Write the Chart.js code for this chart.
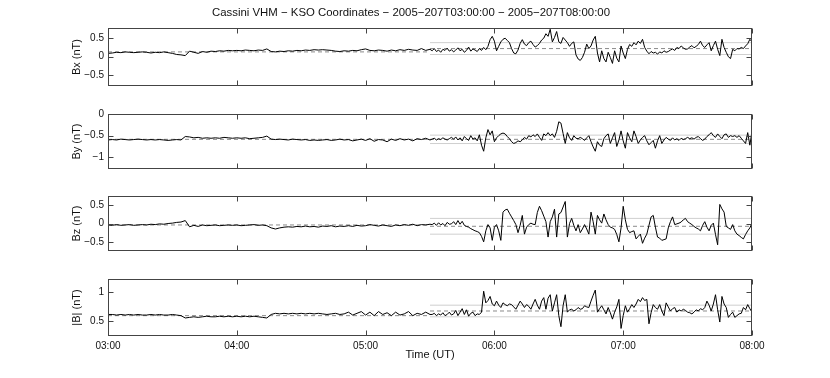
<!DOCTYPE html>
<html>
<head>
<meta charset="utf-8">
<script src="https://cdn.jsdelivr.net/npm/chart.js@4"></script>
<style>
  body { margin: 0; background: #fff; }
  #wrap { position: relative; width: 830px; height: 378px; }
  canvas { position: absolute; left: 0; }
</style>
</head>
<body>
<div id="wrap">
  <canvas id="bxChart" width="830" height="96" style="top:0px"></canvas>
  <canvas id="byChart" width="830" height="75" style="top:104px"></canvas>
  <canvas id="bzChart" width="830" height="75" style="top:186px"></canvas>
  <canvas id="btChart" width="830" height="97" style="top:269px"></canvas>
</div>
<script>
// minutes after 03:00 UT
const xTickValues = [0, 60, 120, 180, 240, 300];
const xTickLabels = ['03:00', '04:00', '05:00', '06:00', '07:00', '08:00'];

// quiet part: 03:00-05:30 every 2 min, active part: 05:31-08:00 every minute
const bxQuiet = [
  0.09,0.10,0.12,0.11,0.13,0.12,0.11,0.12,0.13,0.12,
  0.10,0.12,0.11,0.13,0.11,0.09,0.06,0.05,0.03,0.15,
  0.12,0.09,0.14,0.12,0.15,0.14,0.16,0.15,0.17,0.16,
  0.17,0.16,0.18,0.17,0.16,0.18,0.17,0.21,0.14,0.13,
  0.15,0.14,0.16,0.15,0.17,0.16,0.18,0.17,0.19,0.18,
  0.19,0.18,0.17,0.15,0.14,0.16,0.15,0.17,0.16,0.19,
  0.21,0.17,0.16,0.18,0.17,0.15,0.18,0.16,0.19,0.17,
  0.20,0.18,0.17,0.22,0.17,0.20
];
const bxActive = [
  0.16,0.22,0.14,0.18,0.12,0.20,0.17,0.23,0.15,0.19,
  0.13,0.18,0.24,0.16,0.20,0.12,0.17,0.26,0.15,0.21,
  0.18,0.14,0.22,0.17,0.25,0.19,0.28,0.46,0.55,0.42,
  0.16,0.28,0.40,0.47,0.50,0.44,0.38,0.22,0.10,0.08,
  0.18,0.36,0.46,0.34,0.30,0.38,0.42,0.33,0.26,0.30,
  0.36,0.45,0.50,0.62,0.55,0.74,0.40,0.52,0.68,0.40,
  0.36,0.52,0.45,0.38,0.28,0.36,0.40,0.05,-0.06,-0.10,
  -0.02,0.12,0.34,0.22,0.29,0.45,0.55,0.10,-0.14,0.16,
  -0.05,-0.14,0.12,-0.02,-0.18,0.16,-0.04,-0.14,0.29,0.10,
  -0.05,0.20,0.33,0.28,0.38,0.32,0.42,0.36,0.47,0.25,
  0.15,0.08,0.14,0.10,0.12,0.07,0.13,0.10,0.16,0.12,
  0.14,0.18,0.21,0.17,0.25,0.22,0.29,0.24,0.20,0.21,
  0.26,0.30,0.24,0.28,0.33,0.42,0.30,0.25,0.32,0.38,
  0.16,0.30,0.42,0.20,0.03,0.47,0.25,0.12,0.00,-0.05,
  0.20,0.16,0.22,0.21,0.25,0.22,0.29,0.35,0.47,0.40
];

const byQuiet = [
  -0.60,-0.59,-0.60,-0.58,-0.59,-0.60,-0.59,-0.58,-0.59,-0.60,
  -0.59,-0.60,-0.59,-0.60,-0.61,-0.60,-0.59,-0.60,-0.52,-0.53,
  -0.55,-0.54,-0.56,-0.55,-0.56,-0.55,-0.56,-0.54,-0.55,-0.56,
  -0.55,-0.56,-0.55,-0.57,-0.56,-0.55,-0.54,-0.51,-0.58,-0.59,
  -0.58,-0.59,-0.60,-0.58,-0.59,-0.60,-0.59,-0.61,-0.60,-0.61,
  -0.60,-0.59,-0.61,-0.60,-0.58,-0.60,-0.59,-0.62,-0.60,-0.58,
  -0.61,-0.57,-0.63,-0.59,-0.60,-0.64,-0.58,-0.61,-0.57,-0.60,
  -0.58,-0.62,-0.57,-0.59,-0.56,-0.60
];
const byActive = [
  -0.58,-0.56,-0.60,-0.57,-0.59,-0.55,-0.58,-0.60,-0.57,-0.54,
  -0.58,-0.53,-0.60,-0.55,-0.62,-0.52,-0.57,-0.61,-0.50,-0.58,
  -0.55,-0.62,-0.48,-0.72,-0.86,-0.55,-0.36,-0.48,-0.39,-0.64,
  -0.55,-0.50,-0.46,-0.44,-0.46,-0.52,-0.57,-0.64,-0.68,-0.66,
  -0.62,-0.64,-0.60,-0.54,-0.58,-0.50,-0.53,-0.48,-0.52,-0.46,
  -0.54,-0.61,-0.46,-0.50,-0.43,-0.50,-0.46,-0.54,-0.40,-0.18,
  -0.21,-0.45,-0.68,-0.43,-0.55,-0.61,-0.50,-0.56,-0.57,-0.54,
  -0.57,-0.61,-0.55,-0.50,-0.64,-0.76,-0.86,-0.64,-0.72,-0.75,
  -0.57,-0.50,-0.46,-0.68,-0.55,-0.43,-0.75,-0.60,-0.39,-0.62,
  -0.79,-0.43,-0.55,-0.64,-0.39,-0.52,-0.68,-0.60,-0.54,-0.50,
  -0.62,-0.71,-0.66,-0.61,-0.79,-0.62,-0.50,-0.68,-0.60,-0.54,
  -0.58,-0.61,-0.55,-0.60,-0.57,-0.61,-0.56,-0.59,-0.57,-0.54,
  -0.57,-0.55,-0.58,-0.54,-0.52,-0.57,-0.61,-0.58,-0.52,-0.48,
  -0.43,-0.50,-0.54,-0.46,-0.52,-0.57,-0.48,-0.46,-0.54,-0.50,
  -0.52,-0.50,-0.54,-0.50,-0.56,-0.62,-0.68,-0.43,-0.72,-0.40
];

const bzQuiet = [
  -0.04,-0.05,-0.03,-0.05,-0.04,-0.03,-0.05,-0.04,-0.03,-0.04,
  -0.02,-0.03,-0.01,-0.02,0.00,0.01,0.03,0.04,0.08,-0.09,
  -0.05,-0.08,-0.04,-0.06,-0.05,-0.04,-0.06,-0.05,-0.04,-0.05,
  -0.04,-0.06,-0.05,-0.04,-0.03,-0.05,-0.04,-0.06,-0.12,-0.15,
  -0.12,-0.10,-0.09,-0.10,-0.08,-0.09,-0.07,-0.09,-0.08,-0.10,
  -0.07,-0.08,-0.06,-0.09,-0.07,-0.08,-0.06,-0.08,-0.05,-0.07,
  -0.06,-0.03,-0.05,-0.07,-0.04,-0.06,-0.08,-0.04,-0.06,-0.03,
  -0.05,-0.02,-0.06,-0.03,-0.04,-0.02
];
const bzActive = [
  -0.03,0.01,-0.05,0.02,-0.04,0.00,-0.06,0.03,-0.02,-0.01,
  0.05,-0.03,0.08,-0.02,0.06,-0.05,-0.08,-0.10,-0.14,-0.17,
  -0.20,-0.22,-0.25,-0.35,-0.50,-0.20,-0.03,-0.12,-0.46,-0.10,
  -0.03,-0.20,-0.46,0.31,0.37,0.39,0.28,0.18,0.08,-0.03,
  -0.25,-0.05,0.22,-0.29,-0.10,-0.03,0.01,-0.02,-0.03,0.30,
  0.47,0.35,0.20,0.05,-0.37,0.05,0.18,0.39,-0.37,0.26,
  0.30,0.45,0.60,-0.37,0.00,0.14,-0.05,-0.20,-0.03,-0.25,
  -0.15,-0.03,-0.15,-0.29,0.31,0.05,-0.29,0.22,0.10,0.01,
  0.26,0.10,-0.03,-0.10,-0.12,-0.16,-0.30,-0.50,-0.12,0.47,
  0.10,-0.16,-0.25,-0.22,-0.20,-0.42,-0.35,-0.29,-0.54,-0.40,
  -0.29,-0.05,0.18,0.22,-0.10,-0.37,-0.40,-0.46,-0.44,-0.42,
  -0.12,0.05,0.18,-0.03,-0.01,0.01,0.04,0.10,0.14,0.05,
  0.01,-0.03,-0.08,-0.12,-0.15,-0.20,-0.05,0.05,-0.10,-0.20,
  -0.05,0.01,-0.30,-0.58,0.52,0.40,0.31,-0.08,-0.12,-0.16,
  -0.03,-0.20,-0.29,-0.33,-0.38,-0.42,-0.30,-0.20,-0.12,0.01
];

const btQuiet = [
  0.62,0.62,0.61,0.62,0.61,0.62,0.61,0.62,0.61,0.61,
  0.62,0.61,0.62,0.61,0.61,0.62,0.61,0.60,0.56,0.57,
  0.58,0.57,0.58,0.59,0.58,0.58,0.59,0.58,0.59,0.58,
  0.59,0.58,0.59,0.58,0.59,0.58,0.57,0.56,0.62,0.64,
  0.63,0.64,0.63,0.64,0.63,0.64,0.63,0.64,0.63,0.64,
  0.63,0.62,0.63,0.64,0.62,0.63,0.66,0.61,0.64,0.67,
  0.61,0.66,0.60,0.67,0.62,0.65,0.60,0.66,0.61,0.63,
  0.67,0.60,0.64,0.62,0.66,0.62
];
const btActive = [
  0.62,0.64,0.60,0.63,0.61,0.65,0.60,0.62,0.66,0.61,
  0.63,0.69,0.60,0.66,0.72,0.62,0.70,0.59,0.64,0.66,
  0.60,0.63,0.62,0.66,1.02,0.82,0.86,0.93,0.80,0.77,
  0.85,0.78,0.74,0.82,0.79,0.77,0.80,0.79,0.75,0.71,
  0.78,0.85,0.80,0.74,0.79,0.76,0.71,0.80,0.88,0.78,
  0.71,0.85,0.91,0.71,0.90,0.96,0.68,0.82,0.96,0.60,
  0.41,0.77,0.96,0.66,0.70,0.71,0.68,0.70,0.74,0.71,
  0.72,0.77,0.75,0.74,0.85,0.95,1.04,0.66,0.72,0.77,
  0.70,0.63,0.74,0.65,0.54,0.66,0.75,0.88,0.38,0.60,
  0.77,0.66,0.72,0.79,0.74,0.80,0.88,0.84,0.91,0.86,
  0.88,0.46,0.65,0.79,0.74,0.71,0.79,0.68,0.60,0.82,
  0.75,0.68,0.72,0.74,0.66,0.70,0.68,0.71,0.69,0.66,
  0.65,0.63,0.66,0.70,0.68,0.72,0.70,0.74,0.85,0.78,
  0.68,0.80,0.96,0.70,0.49,0.93,0.80,0.74,0.57,0.62,
  0.66,0.57,0.60,0.63,0.64,0.74,0.70,0.79,0.72,0.66
];

// [quiet mean, active mean, active std]
const bxStats = [0.13, 0.22, 0.16];
const byStats = [-0.585, -0.585, 0.097];
const bzStats = [-0.04, -0.076, 0.215];
const btStats = [0.60, 0.68, 0.10];

const bxTicks = [-0.5, 0, 0.5];
const byTicks = [-1, -0.5, 0];
const bzTicks = [-0.5, 0, 0.5];
const btTicks = [0.5, 1];

Chart.defaults.font.family = "'Liberation Sans', Arial, Helvetica, sans-serif";
Chart.defaults.color = '#111';

const quietTimes = [];
for (let t = 0; t <= 150; t += 2) quietTimes.push(t);
const activeTimes = [];
for (let t = 151; t <= 300; t++) activeTimes.push(t);

function toPoints(quiet, active) {
    const pts = quiet.map((v, i) => ({ x: quietTimes[i], y: v }));
    return pts.concat(active.map((v, i) => ({ x: activeTimes[i], y: v })));
}

function fmt(v) {
    return v < 0 ? '\u2212' + Math.abs(v) : String(v);
}

// MATLAB style box with inward ticks
const frameTicks = {
    id: 'frameTicks',
    afterDatasetsDraw(chart, args, opts) {
        const { ctx, chartArea: a, scales } = chart;
        const L = Math.round(a.left) + 0.5, R = Math.round(a.right) - 0.5;
        const T = Math.round(a.top) + 0.5, B = Math.round(a.bottom) - 0.5;
        ctx.save();
        ctx.strokeStyle = '#444';
        ctx.lineWidth = 1;
        ctx.strokeRect(L, T, R - L, B - T);
        ctx.beginPath();
        xTickValues.forEach(v => {
            const px = Math.round(scales.x.getPixelForValue(v)) + 0.5;
            ctx.moveTo(px, B); ctx.lineTo(px, B - 5);
            ctx.moveTo(px, T); ctx.lineTo(px, T + 5);
        });
        opts.yTicks.forEach(v => {
            const py = Math.round(scales.y.getPixelForValue(v)) + 0.5;
            ctx.moveTo(L, py); ctx.lineTo(L + 5, py);
            ctx.moveTo(R, py); ctx.lineTo(R - 5, py);
        });
        ctx.stroke();
        ctx.restore();
    }
};

function makePanel(id, cfg) {
    const [m0, m1, sd] = cfg.stats;
    const datasets = [
        { data: toPoints(cfg.quiet, cfg.active), borderColor: '#000', borderWidth: 1, pointRadius: 0, tension: 0 },
        { data: [{ x: 0, y: m0 }, { x: 150, y: m0 }], borderColor: '#8a8a8a', borderWidth: 1, borderDash: [4, 3], pointRadius: 0 },
        { data: [{ x: 150, y: m1 }, { x: 300, y: m1 }], borderColor: '#8a8a8a', borderWidth: 1, borderDash: [4, 3], pointRadius: 0 },
        { data: [{ x: 150, y: m1 + sd }, { x: 300, y: m1 + sd }], borderColor: '#cfcfcf', borderWidth: 1, pointRadius: 0 },
        { data: [{ x: 150, y: m1 - sd }, { x: 300, y: m1 - sd }], borderColor: '#cfcfcf', borderWidth: 1, pointRadius: 0 }
    ];
    return new Chart(document.getElementById(id), {
        type: 'line',
        data: { datasets: datasets },
        options: {
            responsive: false,
            animation: false,
            layout: { padding: cfg.padding },
            plugins: {
                legend: { display: false },
                tooltip: { enabled: false },
                title: cfg.title ? {
                    display: true, text: cfg.title, color: '#111',
                    font: { size: 11.4, weight: 'normal' }, padding: { top: 6, bottom: 8.5 }
                } : { display: false },
                frameTicks: { yTicks: cfg.yTicks }
            },
            scales: {
                x: {
                    type: 'linear', min: 0, max: 300,
                    display: cfg.showX,
                    grid: { display: false, drawTicks: false },
                    border: { display: false },
                    afterBuildTicks: s => { s.ticks = xTickValues.map(v => ({ value: v })); },
                    afterFit: s => { s.height = cfg.showX ? 26 : 0; },
                    ticks: {
                        padding: 4, maxRotation: 0, font: { size: 10 },
                        callback: (v) => xTickLabels[xTickValues.indexOf(v)]
                    },
                    title: { display: true, text: 'Time (UT)', font: { size: 11 }, padding: 0 }
                },
                y: {
                    min: cfg.range[0], max: cfg.range[1],
                    grid: { display: false, drawTicks: false },
                    border: { display: false },
                    afterBuildTicks: s => { s.ticks = cfg.yTicks.map(v => ({ value: v })); },
                    afterFit: s => { s.width = 38; },
                    ticks: { padding: 4, font: { size: 10 }, callback: v => fmt(v) },
                    title: { display: true, text: cfg.label, font: { size: 11 }, padding: 0 }
                }
            }
        },
        plugins: [frameTicks]
    });
}

makePanel('bxChart', {
    quiet: bxQuiet, active: bxActive, stats: bxStats, yTicks: bxTicks,
    range: [-0.79, 0.77], label: 'Bx (nT)', showX: false,
    title: 'Cassini VHM \u2212 KSO Coordinates \u2212 2005\u2212207T03:00:00 \u2212 2005\u2212207T08:00:00',
    padding: { left: 70, right: 78, top: 0, bottom: 8 }
});
makePanel('byChart', {
    quiet: byQuiet, active: byActive, stats: byStats, yTicks: byTicks,
    range: [-1.27, 0], label: 'By (nT)', showX: false,
    padding: { left: 70, right: 78, top: 8, bottom: 8 }
});
makePanel('bzChart', {
    quiet: bzQuiet, active: bzActive, stats: bzStats, yTicks: bzTicks,
    range: [-0.75, 0.75], label: 'Bz (nT)', showX: false,
    padding: { left: 70, right: 78, top: 8, bottom: 8 }
});
makePanel('btChart', {
    quiet: btQuiet, active: btActive, stats: btStats, yTicks: btTicks,
    range: [0.25, 1.23], label: '|B| (nT)', showX: true,
    padding: { left: 70, right: 78, top: 8, bottom: 4 }
});
</script>
</body>
</html>
